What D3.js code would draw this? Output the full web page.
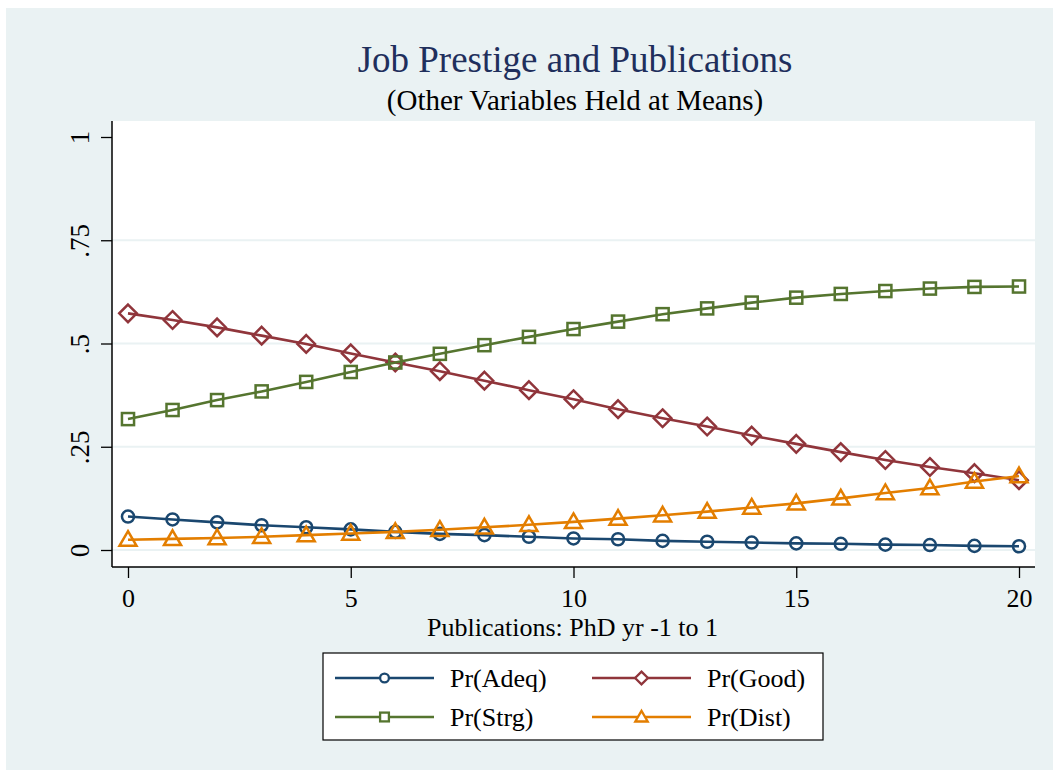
<!DOCTYPE html>
<html>
<head>
<meta charset="utf-8">
<script src="https://cdn.jsdelivr.net/npm/d3@7"></script>
<style>
  body { margin: 0; background: #fff; }
  text { font-family: "Liberation Serif", "Times New Roman", serif; }
</style>
</head>
<body>
<svg id="chart" width="1053" height="770"></svg>
<script>
// publications: PhD yr -1 to 1
const pubs = d3.range(0, 21);
const prAdeq = [0.081, 0.074, 0.067, 0.060, 0.055, 0.050, 0.044, 0.039, 0.036, 0.032, 0.028,
                0.026, 0.022, 0.020, 0.018, 0.016, 0.015, 0.013, 0.012, 0.010, 0.009];
const prGood = [0.573, 0.557, 0.539, 0.519, 0.499, 0.476, 0.454, 0.433, 0.410, 0.387, 0.365,
                0.341, 0.319, 0.299, 0.277, 0.257, 0.237, 0.218, 0.201, 0.186, 0.169];
const prStrg = [0.317, 0.339, 0.363, 0.384, 0.407, 0.431, 0.454, 0.475, 0.496, 0.516, 0.535,
                0.553, 0.571, 0.585, 0.599, 0.611, 0.620, 0.627, 0.633, 0.637, 0.638];
const prDist = [0.025, 0.027, 0.029, 0.032, 0.036, 0.040, 0.044, 0.049, 0.055, 0.061, 0.068,
                0.076, 0.084, 0.093, 0.103, 0.113, 0.125, 0.138, 0.150, 0.166, 0.179];
const xTicks = [0, 5, 10, 15, 20];
const yTicks = [0, 0.25, 0.5, 0.75, 1];
const yTickLabels = ["0", ".25", ".5", ".75", "1"];

const series = [
  {name: "Pr(Adeq)", values: prAdeq, color: "#1a476f", symbol: "circle"},
  {name: "Pr(Good)", values: prGood, color: "#90353b", symbol: "diamond"},
  {name: "Pr(Strg)", values: prStrg, color: "#55752f", symbol: "square"},
  {name: "Pr(Dist)", values: prDist, color: "#e37e00", symbol: "triangle"}
];

var svg = d3.select("#chart");
var bg = "#eaf2f3";

svg.append("rect").attr("x", 6).attr("y", 8).attr("width", 1047).attr("height", 762).attr("fill", bg);

var plot = {left: 112, right: 1035, top: 121, bottom: 567};

var x = d3.scaleLinear().domain([0, 20]).range([128, 1019]);
var y = d3.scaleLinear().domain([0, 1]).range([550, 137]);

svg.append("rect")
    .attr("x", plot.left).attr("y", plot.top)
    .attr("width", plot.right - plot.left).attr("height", plot.bottom - plot.top)
    .attr("fill", "#fff");

// gridlines
svg.append("g")
  .selectAll("line").data(yTicks.filter(d => d < 1)).enter().append("line")
    .attr("x1", plot.left).attr("x2", plot.right)
    .attr("y1", d => y(d)).attr("y2", d => y(d))
    .attr("stroke", bg).attr("stroke-width", 2);

// y axis
var yAxis = svg.append("g")
    .attr("transform", "translate(" + plot.left + ",0)")
    .call(d3.axisLeft(y).tickValues(yTicks).tickSize(11).tickPadding(6)
      .tickFormat((d, i) => yTickLabels[i]));
yAxis.select(".domain").attr("d", "M0," + plot.top + "V" + plot.bottom)
    .attr("stroke", "#000").attr("stroke-width", 1.5);
yAxis.selectAll(".tick line").attr("stroke", "#000").attr("stroke-width", 1.3);
yAxis.selectAll(".tick text")
    .attr("transform", "rotate(-90)")
    .attr("x", 0).attr("y", -23).attr("dy", 0)
    .attr("text-anchor", "middle")
    .attr("font-size", 27).attr("fill", "#000")
    .style("font-family", "Liberation Serif");

// x axis
var xAxis = svg.append("g")
    .attr("transform", "translate(0," + plot.bottom + ")")
    .call(d3.axisBottom(x).tickValues(xTicks).tickSize(11).tickPadding(6));
xAxis.select(".domain").attr("d", "M" + plot.left + ",0H" + plot.right)
    .attr("stroke", "#000").attr("stroke-width", 1.5);
xAxis.selectAll(".tick line").attr("stroke", "#000").attr("stroke-width", 1.3);
xAxis.selectAll(".tick text")
    .attr("y", 40).attr("dy", 0)
    .attr("font-size", 26).attr("fill", "#000")
    .style("font-family", "Liberation Serif");

svg.append("text")
    .attr("x", (plot.left + plot.right) / 2 - 1).attr("y", 636)
    .attr("text-anchor", "middle").attr("font-size", 26)
    .text("Publications: PhD yr -1 to 1");

// titles
svg.append("text")
    .attr("x", 575).attr("y", 72)
    .attr("text-anchor", "middle").attr("font-size", 37).attr("fill", "#1f2f5c")
    .text("Job Prestige and Publications");
svg.append("text")
    .attr("x", 575).attr("y", 110)
    .attr("text-anchor", "middle").attr("font-size", 29).attr("fill", "#000")
    .text("(Other Variables Held at Means)");

function marker(sel, symbol, size) {
  var s = size;
  if (symbol === "circle") {
    sel.append("circle").attr("r", s * 0.55);
  } else if (symbol === "diamond") {
    sel.append("path").attr("d", "M0," + (-s * 0.8) + "L" + (s * 0.8) + ",0L0," + (s * 0.8) + "L" + (-s * 0.8) + ",0Z");
  } else if (symbol === "square") {
    sel.append("rect").attr("x", -s * 0.55).attr("y", -s * 0.55).attr("width", s * 1.1).attr("height", s * 1.1);
  } else {
    var h = s * 1.25;
    sel.append("path").attr("d", "M0," + (-h * 0.62) + "L" + (h * 0.62) + "," + (h * 0.45) + "L" + (-h * 0.62) + "," + (h * 0.45) + "Z");
  }
}

var line = d3.line().x((d, i) => x(pubs[i])).y(d => y(d));

series.forEach(function(s) {
  var g = svg.append("g");
  g.append("path")
      .attr("d", line(s.values))
      .attr("fill", "none").attr("stroke", s.color).attr("stroke-width", 2.6);
  g.selectAll("g.pt").data(s.values).enter().append("g")
      .attr("class", "pt")
      .attr("transform", (d, i) => "translate(" + x(pubs[i]) + "," + y(d) + ")")
      .attr("fill", "none").attr("stroke", s.color).attr("stroke-width", 2.5)
      .each(function() { marker(d3.select(this), s.symbol, 11); });
});

// legend
var legend = svg.append("g");
legend.append("rect")
    .attr("x", 323).attr("y", 653).attr("width", 500).attr("height", 87)
    .attr("fill", "#fff").attr("stroke", "#000").attr("stroke-width", 1.2);

var cols = [335, 592], rows = [678, 717];
series.forEach(function(s, i) {
  var cx = cols[i % 2], cy = rows[Math.floor(i / 2)];
  var item = legend.append("g").attr("transform", "translate(" + cx + "," + cy + ")");
  item.append("line").attr("x1", 0).attr("x2", 99).attr("y1", 0).attr("y2", 0)
      .attr("stroke", s.color).attr("stroke-width", 2.6);
  item.append("g").attr("transform", "translate(49.5,0)")
      .attr("fill", "#fff").attr("stroke", s.color).attr("stroke-width", 2.3)
      .call(marker, s.symbol, 8);
  item.append("text").attr("x", 115).attr("y", 9)
      .attr("font-size", 26).text(s.name);
});
</script>
</body>
</html>
